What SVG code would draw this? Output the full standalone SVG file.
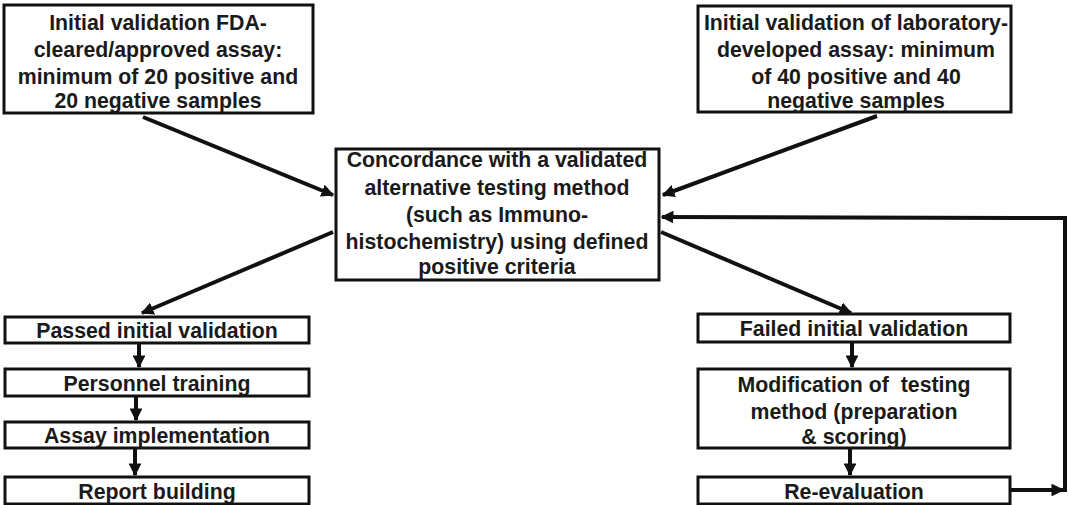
<svg xmlns="http://www.w3.org/2000/svg" width="1070" height="505" viewBox="0 0 1070 505">
<defs>
<marker id="ah" viewBox="0 0 10 10" refX="9" refY="5" markerWidth="3.2" markerHeight="3.2" orient="auto" markerUnits="strokeWidth">
<path d="M0,0 L10,5 L0,10 z" fill="#111"/>
</marker>
<style>
.box{fill:#fff;stroke:#111;stroke-width:3}
.t{font-family:"Liberation Sans",Arial,sans-serif;font-weight:bold;font-size:21.3px;fill:#1a1a1a;text-anchor:middle}
.c{stroke:#111;stroke-width:4;fill:none;marker-end:url(#ah)}
.l{stroke:#111;stroke-width:4;fill:none}
</style>
</defs>
<rect width="1070" height="505" fill="#fff"/>
<g id="connectors">
<line class="c" x1="143" y1="117" x2="333" y2="195"/>
<line class="c" x1="877" y1="116" x2="663" y2="195"/>
<line class="c" x1="333" y1="232" x2="142" y2="313"/>
<line class="c" x1="661" y1="232" x2="851" y2="313"/>
<line class="c" x1="139" y1="344" x2="139" y2="367"/>
<line class="c" x1="136" y1="397" x2="136" y2="420"/>
<line class="c" x1="135" y1="449" x2="135" y2="475"/>
<line class="c" x1="852" y1="343" x2="852" y2="367"/>
<line class="c" x1="850" y1="449" x2="850" y2="475"/>
<line class="c" x1="1010" y1="490" x2="1063" y2="490"/>
<polyline class="l" points="1065,492 1065,218 1060,218"/>
<line class="c" x1="1062" y1="218" x2="662" y2="217"/>
</g>
<g id="n1"><rect class="box" x="4" y="5" width="309" height="108"/>
<text class="t" x="158" y="30">Initial validation FDA-</text>
<text class="t" x="158" y="57">cleared/approved assay:</text>
<text class="t" x="158" y="84">minimum of 20 positive and</text>
<text class="t" x="158" y="108">20 negative samples</text></g>
<g id="n2"><rect class="box" x="698" y="6" width="313" height="106"/>
<text class="t" x="856" y="30">Initial validation of laboratory-</text>
<text class="t" x="856" y="57">developed assay: minimum</text>
<text class="t" x="856" y="84">of 40 positive and 40</text>
<text class="t" x="856" y="108">negative samples</text></g>
<g id="n3"><rect class="box" x="336" y="149" width="323" height="131"/>
<text class="t" x="497" y="167">Concordance with a validated</text>
<text class="t" x="497" y="195">alternative testing method</text>
<text class="t" x="497" y="222">(such as Immuno-</text>
<text class="t" x="497" y="249">histochemistry) using defined</text>
<text class="t" x="497" y="274">positive criteria</text></g>
<g id="n4"><rect class="box" x="5" y="317" width="304" height="26"/>
<text class="t" x="157" y="338">Passed initial validation</text></g>
<g id="n5"><rect class="box" x="5" y="369" width="304" height="27"/>
<text class="t" x="157" y="391">Personnel training</text></g>
<g id="n6"><rect class="box" x="5" y="422" width="304" height="26"/>
<text class="t" x="157" y="443">Assay implementation</text></g>
<g id="n7"><rect class="box" x="5" y="477" width="304" height="27"/>
<text class="t" x="157" y="499">Report building</text></g>
<g id="n8"><rect class="box" x="698" y="314" width="312" height="28"/>
<text class="t" x="854" y="336">Failed initial validation</text></g>
<g id="n9"><rect class="box" x="698" y="369" width="312" height="79"/>
<text class="t" x="854" y="392" xml:space="preserve">Modification of  testing</text>
<text class="t" x="854" y="419">method (preparation</text>
<text class="t" x="854" y="444">&amp; scoring)</text></g>
<g id="n10"><rect class="box" x="698" y="477" width="312" height="27"/>
<text class="t" x="854" y="499">Re-evaluation</text></g>
</svg>
